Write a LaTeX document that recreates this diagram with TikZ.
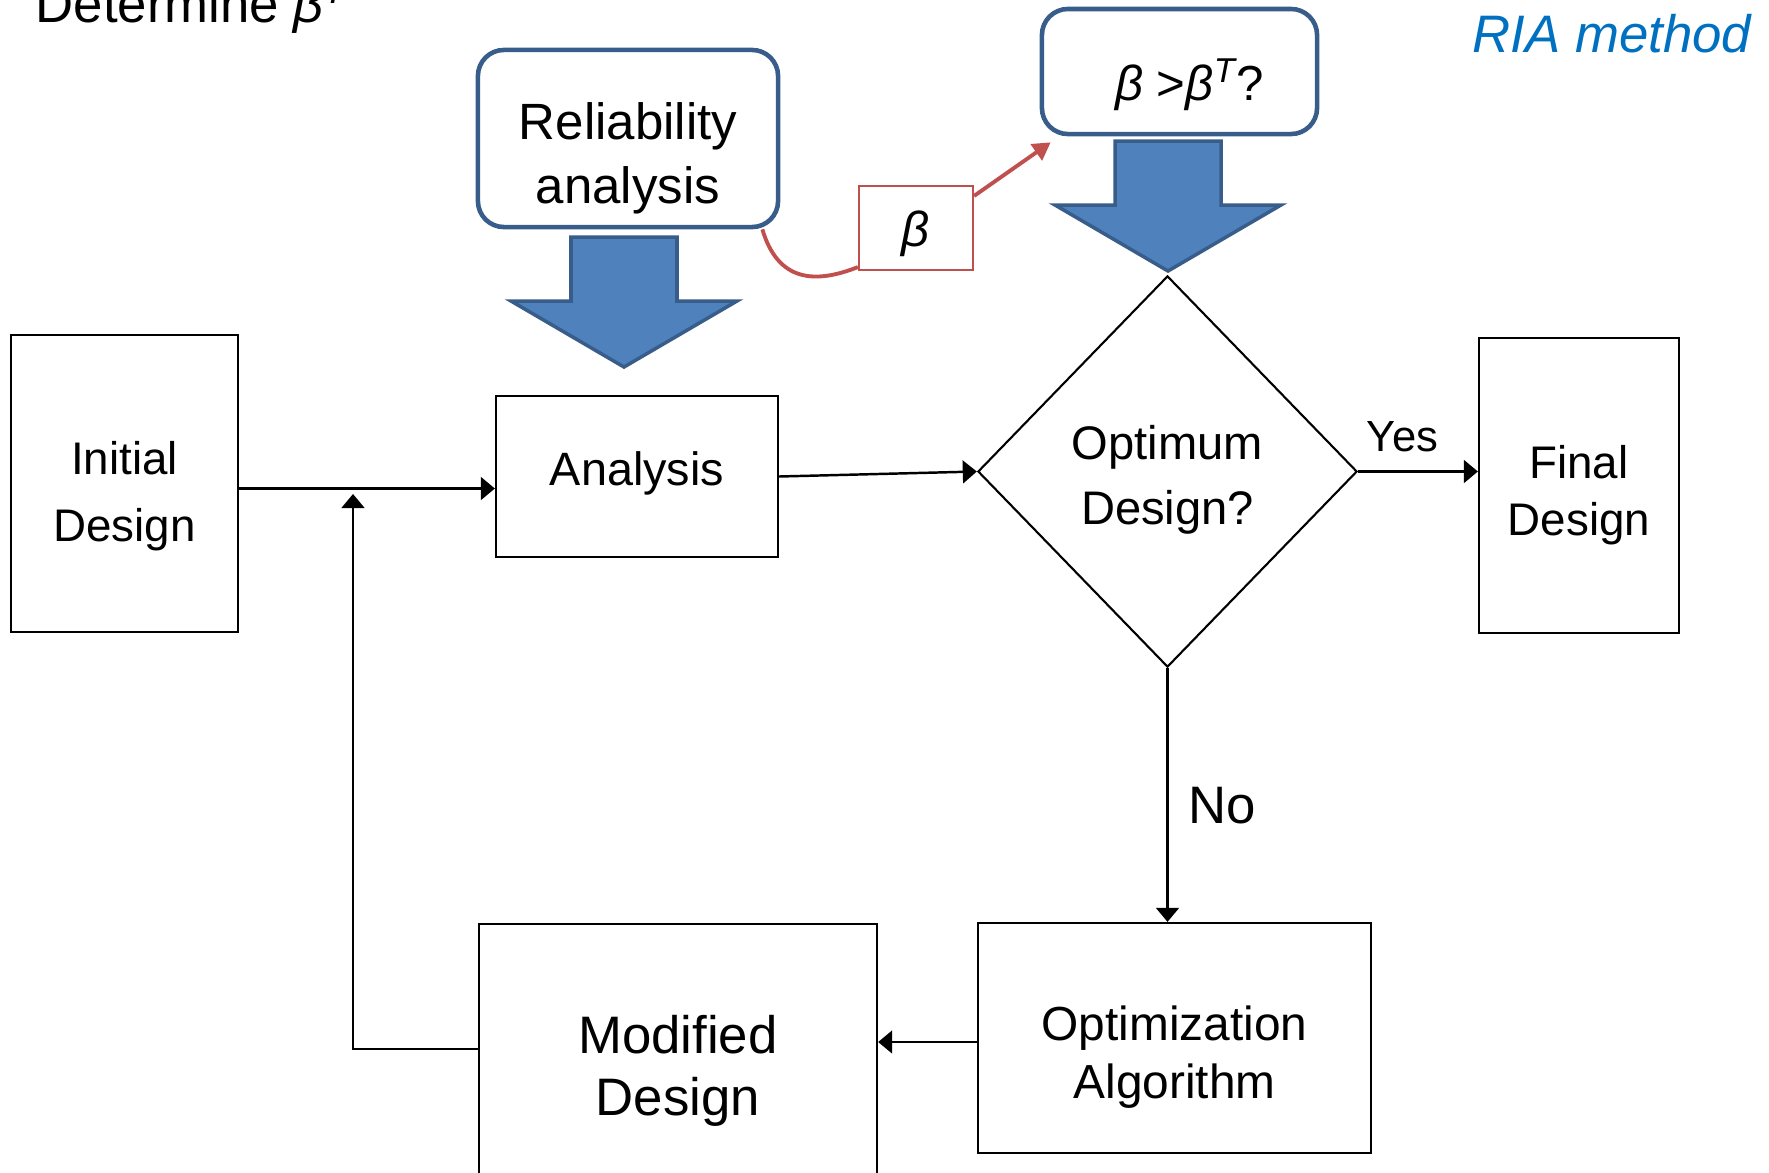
\documentclass[tikz,border=0pt]{standalone}
\usepackage{fontspec}
\setmainfont{Liberation Sans}
\usetikzlibrary{arrows.meta,shapes.geometric}
\definecolor{outblue}{HTML}{385D8A}
\definecolor{fillblue}{HTML}{4F81BD}
\definecolor{betared}{HTML}{C0504D}
\definecolor{riablue}{HTML}{0070C0}

\begin{document}
\begin{tikzpicture}[x=0.01cm,y=-0.01cm,
    box/.style={draw,line width=0.6pt,inner sep=0pt},
    softbox/.style={draw=outblue,line width=1.3pt,rounded corners=0.26cm,fill=white,inner sep=0pt},
    tx/.style={align=center,inner sep=0pt},
    arr/.style={line width=0.7pt,-{Triangle[length=4pt,width=6.5pt]}},
    redline/.style={draw=betared,line width=1.1pt}]
\useasboundingbox (0,0) rectangle (1769,1172);
\clip (0,0) rectangle (1769,1172);

% headings
\node[anchor=base west,inner sep=0pt,font=\fontsize{15}{18}\selectfont] (title) at (35,22) {Determine {\itshape β}\textsuperscript{\itshape T}};
\node[anchor=base east,inner sep=0pt,font=\fontsize{15}{18}\selectfont,text=riablue] (ria) at (1752,52) {\itshape RIA method};

% reliability part
\node[softbox,minimum width=3cm,minimum height=1.77cm,
  label={[tx,yshift=-0.2cm,font=\fontsize{14.5}{18.2}\selectfont]center:Reliability\\analysis}] (rel) at (628,138.5) {};
\node[softbox,minimum width=2.75cm,minimum height=1.25cm,
  label={[tx,xshift=0.1cm,yshift=-0.13cm,font=\fontsize{14}{17}\selectfont]center:{\itshape β} >{\itshape β}\textsuperscript{\itshape T}?}] (cond) at (1179.5,71.5) {};
\node[draw=betared,line width=0.6pt,minimum width=1.14cm,minimum height=0.84cm,inner sep=0pt,
  label={[tx,yshift=-0.06cm,font=\fontsize{14}{17}\selectfont]center:{\itshape β}}] (beta) at (916,228) {};

\foreach \cx/\ty in {624/237,1168/141}
  \draw[fill=fillblue,draw=outblue,line width=1pt,line join=miter]
    ({\cx-53},\ty) -- ({\cx+53},\ty) -- ({\cx+53},{\ty+64}) -- ({\cx+113},{\ty+64})
    -- (\cx,{\ty+130}) -- ({\cx-113},{\ty+64}) -- ({\cx-53},{\ty+64}) -- cycle;

\draw[redline] ([xshift=-0.18cm]rel.south east) .. controls (778,282) and (815,284) .. ([yshift=0.04cm]beta.south west);
\draw[redline,-{Triangle[length=5pt,width=5.5pt]}] ([yshift=-0.11cm]beta.north east) -- ([xshift=0.11cm,yshift=-0.06cm]cond.south west);

% design loop
\node[box,minimum width=2.27cm,minimum height=2.97cm,
  label={[tx,yshift=-0.13cm,font=\fontsize{13}{19}\selectfont]center:Initial\\Design}] (init) at (124.5,483.5) {};
\node[box,minimum width=2.82cm,minimum height=1.61cm,
  label={[tx,yshift=0.03cm,font=\fontsize{13.3}{18}\selectfont]center:Analysis}] (ana) at (637,476.5) {};
\node[box,diamond,minimum width=3.79cm,minimum height=3.91cm,
  label={[tx,yshift=-0.08cm,font=\fontsize{13.4}{18.5}\selectfont]center:Optimum\\Design?}] (dia) at (1167.5,471.5) {};
\node[box,minimum width=2cm,minimum height=2.95cm,
  label={[tx,yshift=-0.1cm,font=\fontsize{13}{16.2}\selectfont]center:Final\\Design}] (fin) at (1579,485.5) {};
\node[box,minimum width=3.93cm,minimum height=2.3cm,
  label={[tx,yshift=-0.19cm,font=\fontsize{13.6}{16.7}\selectfont]center:Optimization\\Algorithm}] (opt) at (1174.5,1038) {};
\node[box,minimum width=3.98cm,minimum height=2.5cm,
  label={[tx,yshift=-0.22cm,font=\fontsize{15}{17.6}\selectfont]center:Modified\\Design}] (mod) at (678,1049) {};
\coordinate (ret) at (353,494);

\draw[arr] ([yshift=-0.05cm]init.east) -- ([yshift=-0.05cm]init.east -| ana.west);
\draw[arr] (ana.east) -- (dia.west);
\draw[arr] (dia.east) -- (dia.east -| fin.west) node[pos=0.37,above=0.18cm,inner sep=0pt,font=\fontsize{12.4}{15}\selectfont] {Yes};
\draw[arr] (dia.south) -- (dia.south |- opt.north) node[pos=0.54,right=0.2cm,inner sep=0pt,font=\fontsize{15}{18}\selectfont] {No};
\draw[arr] ([yshift=-0.04cm]opt.west) -- ([yshift=-0.04cm]opt.west -| mod.east);
\draw[arr] (mod.west) -| (ret);

\end{tikzpicture}
\end{document}
